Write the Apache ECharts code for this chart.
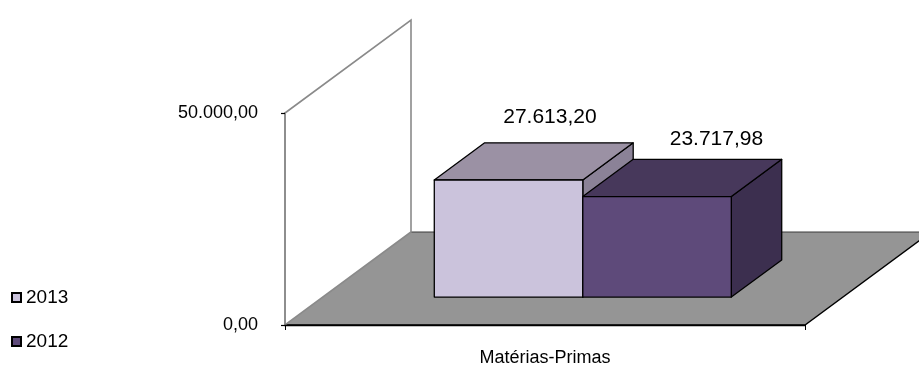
<!DOCTYPE html>
<html>
<head>
<meta charset="utf-8">
<script src="https://cdn.jsdelivr.net/npm/echarts@6/dist/echarts.min.js"></script>
<style>
  html, body { margin: 0; padding: 0; background: #fff; }
  #chart { width: 919px; height: 367px; }
</style>
</head>
<body>
<div id="chart"></div>
<script>
// Chart data
const categories = ['Matérias-Primas'];
const seriesNames = ['2013', '2012'];
const values2013 = [27613.20];
const values2012 = [23717.98];
const yTickValues = [0, 50000];

// Brazilian number format: 27.613,20
function fmtBR(v) {
  const parts = Number(v).toFixed(2).split('.');
  return parts[0].replace(/\B(?=(\d{3})+(?!\d))/g, '.') + ',' + parts[1];
}

// 3D look: floor depth vector (px) and where the bars sit inside it
const DEPTH = [126, -93];
const BAR_FRONT = 0.3;
const BAR_BACK = 0.7;
const BAR_FRAC = 0.2856;          // bar width as a share of the category band
const FONT = '"Liberation Sans", Arial, sans-serif';

const faceColors = [
  { front: '#CBC3DC', top: '#9B91A4', side: '#8B8297' },
  { front: '#5E4A7A', top: '#47385B', side: '#3C2F4F' }
];
const labelNudge = [[-9, -26], [9, -20]];
const seriesValues = [values2013, values2012];

function barRenderer(i, n) {
  return function (params, api) {
    const ci = api.value(0);
    const v = api.value(1);
    const base = api.coord([ci, 0]);
    const top = api.coord([ci, v]);
    const band = api.size([1, 0])[0];
    const w = band * BAR_FRAC;
    const x0 = base[0] - w * n / 2 + w * i;
    const x1 = x0 + w;
    const f = [DEPTH[0] * BAR_FRONT, DEPTH[1] * BAR_FRONT];
    const b = [DEPTH[0] * BAR_BACK, DEPTH[1] * BAR_BACK];
    const yb = base[1], yt = top[1];
    const c = faceColors[i];
    const edge = { stroke: '#000', lineWidth: 1.3, lineJoin: 'round' };
    return {
      type: 'group',
      children: [
        { type: 'polygon', shape: { points: [[x1 + f[0], yt + f[1]], [x1 + b[0], yt + b[1]], [x1 + b[0], yb + b[1]], [x1 + f[0], yb + f[1]]] },
          style: Object.assign({ fill: c.side }, edge) },
        { type: 'polygon', shape: { points: [[x0 + f[0], yt + f[1]], [x0 + b[0], yt + b[1]], [x1 + b[0], yt + b[1]], [x1 + f[0], yt + f[1]]] },
          style: Object.assign({ fill: c.top }, edge) },
        { type: 'polygon', shape: { points: [[x0 + f[0], yt + f[1]], [x1 + f[0], yt + f[1]], [x1 + f[0], yb + f[1]], [x0 + f[0], yb + f[1]]] },
          style: Object.assign({ fill: c.front }, edge) },
        { type: 'text',
          style: { text: fmtBR(v), x: (x0 + x1) / 2 + b[0] + labelNudge[i][0], y: yt + b[1] + labelNudge[i][1],
                   align: 'center', verticalAlign: 'middle', fill: '#000', font: '21px ' + FONT } }
      ]
    };
  };
}

// Floor and side wall of the 3D plot area
function floorRenderer(params, api) {
  const cs = params.coordSys;
  const xl = cs.x, xr = cs.x + cs.width, yt = cs.y, yb = cs.y + cs.height;
  const dx = DEPTH[0], dy = DEPTH[1];
  return {
    type: 'group',
    children: [
      { type: 'polygon', shape: { points: [[xl, yb], [xr, yb], [xr + dx, yb + dy], [xl + dx, yb + dy]] },
        style: { fill: '#959595', stroke: null } },
      { type: 'polyline', shape: { points: [[xl + dx, yb + dy], [xr + dx, yb + dy]] },
        style: { stroke: '#3a3a3a', lineWidth: 1, fill: null } },
      { type: 'polyline', shape: { points: [[xl, yb], [xr, yb], [xr + dx, yb + dy]] },
        style: { stroke: '#000', lineWidth: 1.3, fill: null } },
      { type: 'polygon', shape: { points: [[xl, yb], [xl, yt], [xl + dx, yt + dy], [xl + dx, yb + dy]] },
        style: { fill: '#fff', stroke: '#8a8a8a', lineWidth: 1.6 } }
    ]
  };
}

const series = [{
  type: 'custom',
  name: 'floor',
  z: 1,
  silent: true,
  renderItem: floorRenderer,
  data: [[0, 0]]
}];
seriesNames.forEach(function (name, i) {
  series.push({
    type: 'custom',
    name: name,
    z: 3,
    itemStyle: { color: faceColors[i].front, borderColor: '#000', borderWidth: 1.5 },
    renderItem: barRenderer(i, seriesNames.length),
    data: categories.map(function (c, k) { return [k, seriesValues[i][k]]; })
  });
});

const chart = echarts.init(document.getElementById('chart'), null, { renderer: 'canvas' });
chart.setOption({
  animation: false,
  backgroundColor: '#fff',
  textStyle: { fontFamily: FONT },
  grid: { left: 285, top: 113, width: 520, height: 212, containLabel: false },
  legend: {
    data: seriesNames,
    orient: 'vertical',
    left: 11,
    top: 288,
    padding: 0,
    itemWidth: 9,
    itemHeight: 9,
    itemGap: 25,
    icon: 'rect',
    textStyle: { fontSize: 19, color: '#000', fontFamily: FONT }
  },
  xAxis: {
    type: 'category',
    data: categories,
    z: 10,
    axisLine: { lineStyle: { color: '#000', width: 1.3 } },
    axisTick: { show: true, length: 5, lineStyle: { color: '#000' } },
    axisLabel: { fontSize: 18, color: '#000', margin: 24, fontFamily: FONT }
  },
  yAxis: {
    type: 'value',
    min: yTickValues[0],
    max: yTickValues[yTickValues.length - 1],
    interval: yTickValues[1] - yTickValues[0],
    z: 10,
    splitLine: { show: false },
    axisLine: { show: true, lineStyle: { color: '#8a8a8a', width: 1.6 } },
    axisTick: { show: true, length: 4, lineStyle: { color: '#000', width: 1.2 } },
    axisLabel: { fontSize: 18, color: '#000', margin: 27, fontFamily: FONT, formatter: fmtBR }
  },
  series: series
});
</script>
</body>
</html>
